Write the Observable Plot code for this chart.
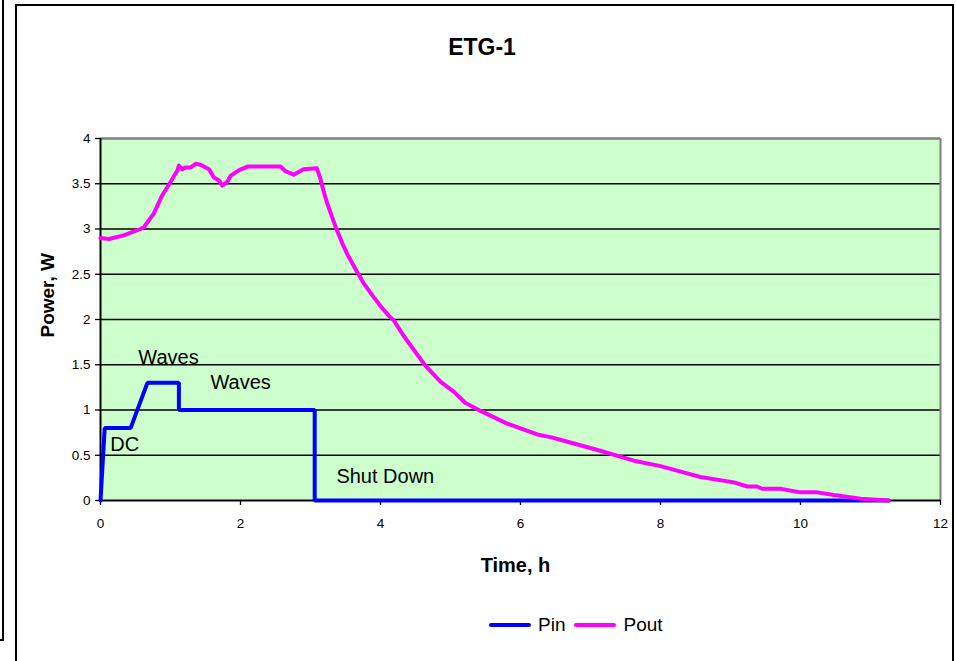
<!DOCTYPE html>
<html>
<head>
<meta charset="utf-8">
<script src="https://cdn.jsdelivr.net/npm/d3@7"></script>
<script src="https://cdn.jsdelivr.net/npm/@observablehq/plot@0.6"></script>
<style>
  html, body { margin: 0; padding: 0; background: #fff; overflow: hidden; }
  body { width: 956px; height: 661px; position: relative; font-family: "Liberation Sans", Arial, sans-serif; }
  .frame { position: absolute; box-sizing: border-box; border: 2px solid #000; }
  #title { position: absolute; left: 0; width: 964px; top: 33px; text-align: center; font-weight: bold; font-size: 23px; line-height: 28px; color: #000; }
  #chart { position: absolute; left: 0; top: 80px; }
  #chart g[aria-label$="tick label"] { font-size: 13.5px !important; }
  #legend { position: absolute; top: 613px; left: 489px; height: 24px; display: flex; align-items: center; font-size: 19px; color: #000; }
  .sw { display: inline-block; width: 42px; height: 4px; border-radius: 2px; margin-right: 7px; }
  .item { display: flex; align-items: center; margin-right: 9px; }
</style>
</head>
<body>
<div class="frame" style="left:-10px; top:-10px; width:14px; height:651px;"></div>
<div class="frame" style="left:15px; top:4px; width:939px; height:700px;"></div>
<div id="title">ETG-1</div>
<div id="chart"></div>
<div id="legend"></div>
<script>
// ---- data ----
const seriesNames = ["Pin", "Pout"];
const seriesColors = ["#0000ff", "#ff00ff"];

const pinTime = [0, 0.06, 0.43, 0.67, 1.12, 1.12, 3.06, 3.06, 11.26];
const pinPower = [0, 0.8, 0.8, 1.3, 1.3, 1.0, 1.0, 0, 0];

const poutTime = [0, 0.12, 0.33, 0.57, 0.62, 0.76, 0.88, 1.0, 1.10, 1.12, 1.17, 1.21, 1.29, 1.36, 1.43, 1.55, 1.62, 1.69, 1.74, 1.81, 1.86, 1.98, 2.10, 2.57, 2.64, 2.76, 2.90, 3.09, 3.14, 3.19, 3.24, 3.36, 3.45, 3.52, 3.64, 3.76, 3.90, 4.0, 4.12, 4.19, 4.33, 4.64, 4.86, 5.05, 5.21, 5.43, 5.81, 6.24, 6.43, 6.62, 7.14, 7.62, 8.0, 8.33, 8.57, 9.05, 9.24, 9.38, 9.45, 9.71, 10.0, 10.24, 10.48, 10.86, 11.26];
const poutPower = [2.90, 2.89, 2.93, 3.0, 3.02, 3.17, 3.37, 3.52, 3.65, 3.70, 3.66, 3.68, 3.68, 3.72, 3.71, 3.66, 3.57, 3.54, 3.48, 3.52, 3.59, 3.65, 3.69, 3.69, 3.64, 3.60, 3.66, 3.67, 3.56, 3.41, 3.28, 3.02, 2.85, 2.73, 2.56, 2.40, 2.25, 2.15, 2.04, 1.99, 1.82, 1.49, 1.31, 1.20, 1.08, 0.99, 0.85, 0.73, 0.70, 0.66, 0.55, 0.44, 0.38, 0.31, 0.26, 0.20, 0.155, 0.155, 0.13, 0.13, 0.09, 0.09, 0.06, 0.02, 0.0];

const noteLabels = ["Waves", "Waves", "DC", "Shut Down"];
const noteTime = [0.54, 1.57, 0.14, 3.37];
const notePower = [1.58, 1.30, 0.62, 0.265];

const xTicks = [0, 2, 4, 6, 8, 10, 12];
const yTicks = [0, 0.5, 1, 1.5, 2, 2.5, 3, 3.5, 4];
const gridLevels = [0.5, 1, 1.5, 2, 2.5, 3, 3.5];

const xLabel = "Time, h";
const yLabel = "Power, W";

// ---- tables ----
const pin = pinTime.map((t, i) => ({t, p: pinPower[i]}));
const pout = poutTime.map((t, i) => ({t, p: poutPower[i]}));
const notes = noteLabels.map((s, i) => ({s, t: noteTime[i], p: notePower[i]}));

const font = '"Liberation Sans", Arial, sans-serif';

const chart = Plot.plot({
  width: 956,
  height: 520,
  marginTop: 58,
  marginBottom: 100,
  marginLeft: 100,
  marginRight: 16,
  style: {fontFamily: font, fontSize: "13.5px", color: "#000", background: "transparent", overflow: "visible"},
  x: {domain: [0, 12]},
  y: {domain: [0, 4]},
  marks: [
    Plot.frame({fill: "#ccffcc", stroke: "none"}),
    Plot.ruleY(gridLevels, {stroke: "#000", strokeWidth: 1.4}),
    Plot.ruleY([4], {stroke: "#808080", strokeWidth: 2.5}),
    Plot.ruleX([12], {stroke: "#808080", strokeWidth: 2}),
    Plot.axisX({ticks: xTicks, tickSize: 5, tickPadding: 13, tickFormat: d => String(d), label: null, stroke: "#000", strokeWidth: 1.3, fontSize: 13.5}),
    Plot.axisY({ticks: yTicks, tickSize: 5, tickPadding: 5, tickFormat: d => String(d), label: null, stroke: "#000", strokeWidth: 1.3, fontSize: 13.5}),
    Plot.ruleY([0], {stroke: "#000", strokeWidth: 2}),
    Plot.ruleX([0], {stroke: "#000", strokeWidth: 2}),
    Plot.line(pin, {x: "t", y: "p", stroke: seriesColors[0], strokeWidth: 4, strokeLinejoin: "miter"}),
    Plot.line(pout, {x: "t", y: "p", stroke: seriesColors[1], strokeWidth: 4, strokeLinejoin: "round"}),
    Plot.text(notes, {x: "t", y: "p", text: "s", textAnchor: "start", lineAnchor: "middle", fontSize: 20, fill: "#000"}),
    Plot.text([xLabel], {frameAnchor: "bottom", dx: -5, dy: 65, lineAnchor: "middle", fontSize: 20, fontWeight: "bold", fill: "#000"}),
    Plot.text([yLabel], {frameAnchor: "left", dx: -53, dy: 18, rotate: -90, lineAnchor: "middle", fontSize: 19, fontWeight: "bold", fill: "#000"})
  ]
});
document.getElementById("chart").appendChild(chart);

const legend = document.getElementById("legend");
seriesNames.forEach((name, i) => {
  const item = document.createElement("div");
  item.className = "item";
  const sw = document.createElement("span");
  sw.className = "sw";
  sw.style.background = seriesColors[i];
  const lab = document.createElement("span");
  lab.textContent = name;
  item.appendChild(sw);
  item.appendChild(lab);
  legend.appendChild(item);
});
</script>
</body>
</html>
